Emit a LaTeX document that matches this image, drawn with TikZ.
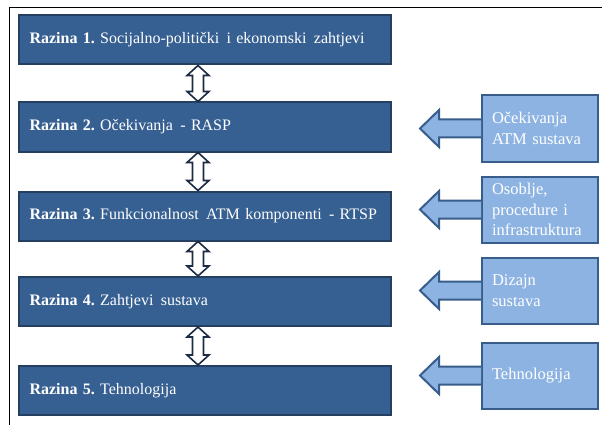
\documentclass[tikz,border=0pt]{standalone}
\usepackage{fontspec}
\setmainfont{Liberation Serif}
\usetikzlibrary{calc}
\definecolor{darkbox}{HTML}{376092}
\definecolor{darkedge}{HTML}{243F60}
\definecolor{lightbox}{HTML}{8DB3E2}
\definecolor{lightedge}{HTML}{385D8A}
\definecolor{arrowedge}{HTML}{1C2B44}
\newcommand\wsp{\hspace{2pt}}
\frenchspacing
\begin{document}
\begin{tikzpicture}[x=1pt,y=-1pt,
  level/.style={draw=darkedge, line width=2pt, fill=darkbox, text=white,
    minimum width=372pt, minimum height=49pt, inner xsep=11pt, text width=350pt,
    align=left, font=\fontsize{16}{18}\selectfont},
  side/.style={draw=lightedge, line width=2pt, fill=lightbox, text=white,
    minimum width=115pt, minimum height=66pt, inner xsep=10pt, text width=96pt,
    align=left, font=\fontsize{16.5}{20.5}\selectfont},
  dblarr/.style={draw=arrowedge, line width=1.6pt, fill=white, line join=miter},
  sidearr/.style={draw=lightedge, line width=2pt, fill=lightbox, line join=miter}]
\useasboundingbox (0,0) rectangle (602,425);
% frame
\draw[line width=1.5pt] (9.5,440) -- (9.5,7.5) -- (620,7.5);
% level boxes
\node[level] (b1) at (204.5,40) {\mbox{\textbf{Razina 1.} Socijalno-politički\wsp{} i ekonomski\wsp{} zahtjevi}};
\node[level] (b2) at (204.5,127) {\mbox{\textbf{Razina 2.} Očekivanja\wsp{} - RASP}};
\node[level] (b3) at (204.5,216) {\mbox{\textbf{Razina 3.} Funkcionalnost\wsp{} ATM komponenti\wsp{} - RTSP}};
\node[level] (b4) at (204.5,301.5) {\mbox{\textbf{Razina 4.} Zahtjevi\wsp{} sustava}};
\node[level] (b5) at (204.5,390.5) {\mbox{\textbf{Razina 5.} Tehnologija}};
% side boxes
\node[side] (r1) at (540,128.5) {Očekivanja\\ATM sustava};
\node[side] (r2) at (540,209.5) {Osoblje,\\procedure i\\infrastruktura};
\node[side] (r3) at (540,290.5) {Dizajn\\sustava};
\node[side] (r4) at (540,375.5) {Tehnologija};
% double arrows
\coordinate (ax) at (198,0);
\foreach \a/\b in {b1/b2,b2/b3,b3/b4,b4/b5}{
  \path[dblarr] let \p1=(ax |- \a.south), \p2=(ax |- \b.north) in
    (\x1,\y1) -- (\x1+11pt,\y1-10pt) -- (\x1+5.5pt,\y1-10pt) -- (\x1+5.5pt,\y2+10pt)
    -- (\x1+11pt,\y2+10pt) -- (\x1,\y2) -- (\x1-11pt,\y2+10pt) -- (\x1-5.5pt,\y2+10pt)
    -- (\x1-5.5pt,\y1-10pt) -- (\x1-11pt,\y1-10pt) -- cycle;
}
% side arrows
\foreach \r in {r1,r2,r3,r4}{
  \path[sidearr] let \p1=(\r.west) in
    (\x1,\y1+9pt) -- (\x1-42pt,\y1+9pt) -- (\x1-42pt,\y1+18.5pt) -- (\x1-61pt,\y1)
    -- (\x1-42pt,\y1-18.5pt) -- (\x1-42pt,\y1-9pt) -- (\x1,\y1-9pt);
}
\end{tikzpicture}
\end{document}
